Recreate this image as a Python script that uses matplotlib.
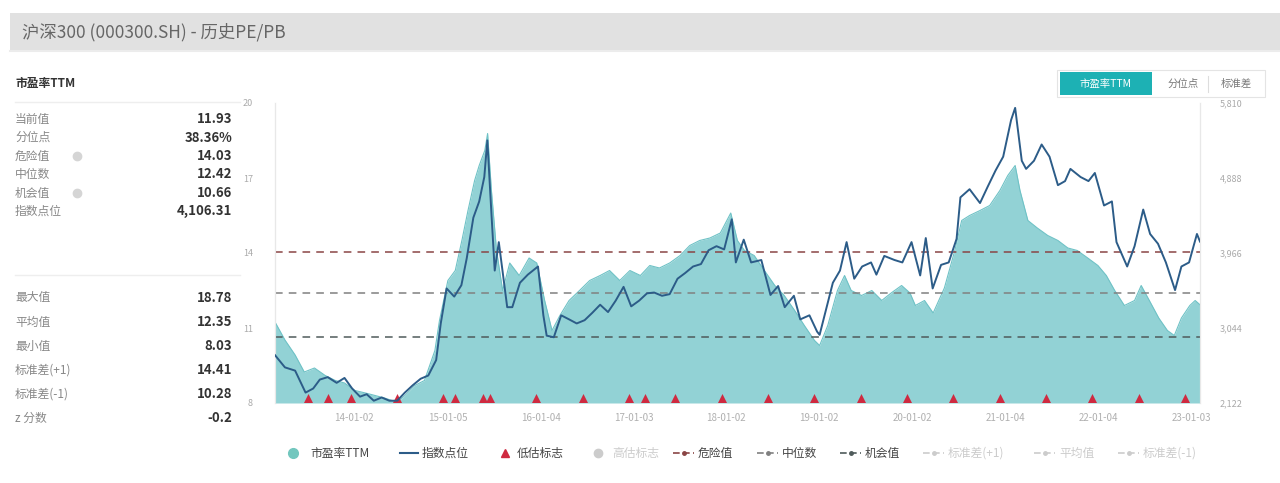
import numpy as np
import matplotlib.pyplot as plt
import matplotlib.dates as mdates
import pandas as pd
from matplotlib.patches import Rectangle

plt.rcParams['font.family'] = ['Noto Sans CJK SC', 'DejaVu Sans']

# PE TTM of CSI 300
pe_dates = ['2013-02-25', '2013-04-05', '2013-05-15', '2013-06-20', '2013-07-30', '2013-09-10',
            '2013-10-20', '2013-11-25', '2014-01-05', '2014-02-15', '2014-03-25', '2014-05-01',
            '2014-06-20', '2014-07-20', '2014-08-28', '2014-10-05', '2014-11-15', '2014-12-03',
            '2015-01-05', '2015-02-03', '2015-03-01', '2015-03-25', '2015-04-20', '2015-05-08',
            '2015-05-30', '2015-06-10', '2015-06-25', '2015-07-15', '2015-08-08', '2015-09-05',
            '2015-10-12', '2015-11-20', '2015-12-20', '2016-01-20', '2016-02-18', '2016-03-20',
            '2016-04-25', '2016-06-05', '2016-07-15', '2016-08-25', '2016-10-01', '2016-11-10',
            '2016-12-20', '2017-01-30', '2017-03-08', '2017-04-15', '2017-05-25', '2017-07-05',
            '2017-08-12', '2017-09-20', '2017-10-30', '2017-12-10', '2018-01-20', '2018-02-15',
            '2018-03-15', '2018-04-22', '2018-06-01', '2018-07-12', '2018-08-18', '2018-09-28',
            '2018-11-05', '2018-12-15', '2019-01-04', '2019-02-05', '2019-03-15', '2019-04-12',
            '2019-05-08', '2019-06-18', '2019-07-28', '2019-09-05', '2019-10-12', '2019-11-22',
            '2019-12-25', '2020-01-15', '2020-02-20', '2020-03-25', '2020-05-08', '2020-06-18',
            '2020-07-15', '2020-08-15', '2020-09-25', '2020-11-02', '2020-12-12', '2021-01-12',
            '2021-02-10', '2021-03-01', '2021-04-01', '2021-05-08', '2021-06-18', '2021-07-28',
            '2021-09-05', '2021-10-12', '2021-11-22', '2022-01-01', '2022-02-03', '2022-03-08',
            '2022-04-15', '2022-05-25', '2022-06-20', '2022-07-22', '2022-08-28', '2022-10-01',
            '2022-10-28', '2022-11-25', '2022-12-28', '2023-01-18', '2023-02-06']
pe_values = [11.24, 10.52, 9.92, 9.24, 9.40, 9.10,
             8.90, 8.80, 8.50, 8.40, 8.30, 8.20,
             8.03, 8.30, 8.70, 8.90, 10.10, 11.30,
             12.90, 13.30, 14.50, 15.70, 16.90, 17.50,
             18.10, 18.78, 16.50, 14.10, 12.50, 13.60,
             13.10, 13.80, 13.60, 12.10, 10.90, 11.50,
             12.10, 12.50, 12.90, 13.10, 13.30, 12.90,
             13.30, 13.10, 13.50, 13.40, 13.60, 13.90,
             14.30, 14.50, 14.60, 14.80, 15.60, 14.50,
             14.10, 13.90, 13.30, 12.70, 12.30, 11.70,
             11.10, 10.50, 10.30, 11.10, 12.50, 13.10,
             12.50, 12.30, 12.50, 12.10, 12.40, 12.70,
             12.40, 11.90, 12.10, 11.60, 12.60, 14.10,
             15.30, 15.50, 15.70, 15.90, 16.50, 17.10,
             17.50, 16.50, 15.30, 15.00, 14.70, 14.50,
             14.20, 14.10, 13.80, 13.50, 13.10, 12.50,
             11.90, 12.10, 12.70, 12.10, 11.40, 10.90,
             10.70, 11.40, 11.90, 12.10, 11.93]

# index level
index_dates = ['2013-02-25', '2013-04-05', '2013-05-15', '2013-06-25', '2013-07-25', '2013-08-20',
               '2013-09-20', '2013-10-25', '2013-11-25', '2013-12-25', '2014-01-25', '2014-02-20',
               '2014-03-20', '2014-04-20', '2014-05-20', '2014-06-20', '2014-07-20', '2014-08-20',
               '2014-09-20', '2014-10-20', '2014-11-20', '2014-12-08', '2014-12-31', '2015-01-30',
               '2015-02-27', '2015-03-20', '2015-04-15', '2015-05-08', '2015-05-28', '2015-06-09',
               '2015-06-26', '2015-07-08', '2015-07-24', '2015-08-26', '2015-09-15', '2015-10-15',
               '2015-11-15', '2015-12-25', '2016-01-15', '2016-01-28', '2016-02-25', '2016-03-25',
               '2016-04-25', '2016-05-25', '2016-06-25', '2016-07-25', '2016-08-25', '2016-09-25',
               '2016-10-25', '2016-11-25', '2016-12-25', '2017-01-25', '2017-02-25', '2017-03-25',
               '2017-04-25', '2017-05-25', '2017-06-25', '2017-07-25', '2017-08-25', '2017-09-25',
               '2017-10-25', '2017-11-25', '2017-12-25', '2018-01-24', '2018-02-09', '2018-03-12',
               '2018-04-10', '2018-05-20', '2018-06-25', '2018-07-25', '2018-08-20', '2018-09-25',
               '2018-10-20', '2018-11-25', '2018-12-25', '2019-01-04', '2019-02-25', '2019-03-25',
               '2019-04-20', '2019-05-20', '2019-06-20', '2019-07-25', '2019-08-15', '2019-09-15',
               '2019-10-25', '2019-11-25', '2019-12-31', '2020-02-03', '2020-02-25', '2020-03-23',
               '2020-04-25', '2020-05-25', '2020-06-25', '2020-07-10', '2020-08-15', '2020-09-25',
               '2020-10-25', '2020-11-25', '2020-12-25', '2021-01-25', '2021-02-10', '2021-03-08',
               '2021-03-25', '2021-04-25', '2021-05-25', '2021-06-25', '2021-07-28', '2021-08-25',
               '2021-09-15', '2021-10-25', '2021-11-25', '2021-12-20', '2022-01-25', '2022-02-25',
               '2022-03-15', '2022-04-26', '2022-05-25', '2022-06-28', '2022-07-25', '2022-08-25',
               '2022-09-25', '2022-10-31', '2022-11-25', '2022-12-25', '2023-01-25', '2023-02-06']
index_values = [2710, 2560, 2520, 2250, 2300, 2410,
                2440, 2370, 2430, 2300, 2200, 2230,
                2150, 2190, 2150, 2150, 2250, 2340,
                2420, 2460, 2650, 3100, 3530, 3430,
                3570, 3900, 4400, 4600, 4900, 5350,
                4400, 3750, 4100, 3300, 3300, 3600,
                3700, 3800, 3200, 2950, 2930, 3200,
                3150, 3100, 3140, 3230, 3330, 3240,
                3380, 3550, 3310, 3380, 3470, 3480,
                3440, 3460, 3650, 3720, 3800, 3830,
                4000, 4050, 4010, 4380, 3850, 4130,
                3850, 3880, 3450, 3560, 3300, 3440,
                3150, 3200, 3000, 2960, 3600, 3750,
                4100, 3650, 3800, 3850, 3700, 3930,
                3880, 3850, 4100, 3690, 4150, 3530,
                3820, 3850, 4140, 4650, 4750, 4580,
                4780, 4980, 5150, 5600, 5750, 5100,
                5000, 5100, 5300, 5150, 4800, 4850,
                5000, 4900, 4850, 4950, 4550, 4600,
                4100, 3800, 4050, 4500, 4200, 4080,
                3850, 3510, 3800, 3850, 4200, 4106.31]

signal_dates = ['2013-07-03', '2013-09-20', '2013-12-20', '2014-06-20', '2014-12-15', '2015-02-03',
                '2015-05-22', '2015-06-20', '2015-12-18', '2016-06-17', '2016-12-16', '2017-02-17',
                '2017-06-16', '2017-12-15', '2018-06-15', '2018-12-14', '2019-06-14', '2019-12-13',
                '2020-06-12', '2020-12-11', '2021-06-11', '2021-12-10', '2022-06-10', '2022-12-09']

danger_value = 14.03
median_value = 12.42
chance_value = 10.66

pe_ticks = [8, 11, 14, 17, 20]
index_ticks = [2122, 3044, 3966, 4888, 5810]
date_ticks = ['2014-01-02', '2015-01-05', '2016-01-04', '2017-01-03', '2018-01-02',
              '2019-01-02', '2020-01-02', '2021-01-04', '2022-01-04', '2023-01-03']

stats_top = [('当前值', '11.93'), ('分位点', '38.36%'), ('危险值', '14.03'),
             ('中位数', '12.42'), ('机会值', '10.66'), ('指数点位', '4,106.31')]
stats_bottom = [('最大值', '18.78'), ('平均值', '12.35'), ('最小值', '8.03'),
                ('标准差(+1)', '14.41'), ('标准差(-1)', '10.28'), ('z 分数', '-0.2')]

pe_x = pd.to_datetime(pe_dates)
idx_x = pd.to_datetime(index_dates)
sig_x = mdates.date2num(pd.to_datetime(signal_dates))

fill_color = '#92d2d5'
line_color = '#2c5c88'
danger_color = '#8a4545'
median_color = '#808080'
chance_color = '#4f5b5b'
tri_color = '#cf2a40'

fig = plt.figure(figsize=(12.8, 4.83), dpi=100)

# page layer in pixel units
bg = fig.add_axes([0, 0, 1, 1])
bg.set_xlim(0, 1280)
bg.set_ylim(483, 0)
bg.axis('off')

bg.add_patch(Rectangle((10, 13), 1270, 37, color='#e1e1e1', lw=0))
bg.plot([10, 1280], [51, 51], color='#ececec', lw=1.5)
bg.text(22, 32, '沪深300 (000300.SH) - 历史PE/PB', fontsize=12.5, color='#666666', va='center')

bg.text(15, 84, '市盈率TTM', fontsize=8.5, color='#333333', fontweight='bold', va='center')
bg.plot([15, 240], [102, 102], color='#eeeeee', lw=1)
for i, (name, val) in enumerate(stats_top):
    y = 119 + i * 18.5
    bg.text(15, y, name, fontsize=8.5, color='#888888', va='center')
    bg.text(232, y, val, fontsize=9.5, color='#333333', fontweight='bold', va='center', ha='right')
    if name in ('危险值', '机会值'):
        bg.plot(77, y, 'o', ms=6, color='#d5d5d5')
bg.plot([15, 240], [275, 275], color='#eeeeee', lw=1)
for i, (name, val) in enumerate(stats_bottom):
    y = 298 + i * 24
    bg.text(15, y, name, fontsize=8.5, color='#888888', va='center')
    bg.text(232, y, val, fontsize=9.5, color='#333333', fontweight='bold', va='center', ha='right')

# switch buttons
bg.add_patch(Rectangle((1057, 70), 208, 27, fill=False, ec='#e4e4e4', lw=0.8))
bg.add_patch(Rectangle((1060, 72), 92, 23, color='#1db1b4', lw=0))
bg.text(1106, 84, '市盈率TTM', fontsize=7.5, color='white', ha='center', va='center')
bg.text(1183, 84, '分位点', fontsize=7.5, color='#777777', ha='center', va='center')
bg.plot([1208, 1208], [76, 92], color='#dddddd', lw=0.8)
bg.text(1236, 84, '标准差', fontsize=7.5, color='#777777', ha='center', va='center')

# main chart
ax = fig.add_axes([275 / 1280, 80 / 483, 925 / 1280, 300 / 483])
ax.fill_between(pe_x, pe_values, 8, color=fill_color, lw=0, zorder=1)
ax.plot(pe_x, pe_values, color='#6fc2c6', lw=0.8, zorder=2)
ax.axhline(danger_value, color=danger_color, lw=1.1, ls=(0, (5, 4)), zorder=3)
ax.axhline(median_value, color=median_color, lw=1.1, ls=(0, (5, 4)), zorder=3)
ax.axhline(chance_value, color=chance_color, lw=1.1, ls=(0, (5, 4)), zorder=3)
ax.scatter(sig_x, np.full(len(sig_x), 0.016), transform=ax.get_xaxis_transform(),
           marker='^', s=42, color=tri_color, zorder=6, clip_on=False, lw=0)
ax.set_ylim(8, 20)
ax.set_xlim(pe_x[0], pe_x[-1])
ax.set_yticks(pe_ticks)
ax.set_yticklabels([str(t) for t in pe_ticks])
tick_x = pd.to_datetime(date_ticks)
ax.set_xticks(tick_x)
ax.set_xticklabels([d.strftime('%y-%m-%d') for d in tick_x])
ax.tick_params(axis='y', length=0, labelsize=6.5, labelcolor='#aaaaaa', pad=16)
ax.tick_params(axis='x', length=0, labelsize=7, labelcolor='#b0b0b0', pad=7)

ax2 = ax.twinx()
ax2.plot(idx_x, index_values, color=line_color, lw=1.4, zorder=4)
ax2.set_ylim(index_ticks[0], index_ticks[-1])
ax2.set_yticks(index_ticks)
ax2.set_yticklabels([f'{t:,}' for t in index_ticks])
ax2.tick_params(axis='y', length=0, labelsize=6.5, labelcolor='#aaaaaa', pad=14)

for a in (ax, ax2):
    a.spines['top'].set_visible(False)
    a.spines['bottom'].set_visible(False)
    a.spines['left'].set_color('#e8e8e8')
    a.spines['right'].set_color('#e8e8e8')
    a.patch.set_visible(False)

# legend row
ly = 453
lfs = 8.5
tc = '#444444'
fc = '#cccccc'
bg.plot(293, ly, 'o', ms=7, color='#72c7be')
bg.text(310, ly, '市盈率TTM', fontsize=lfs, color=tc, va='center')
bg.plot([400, 418], [ly, ly], color=line_color, lw=1.5)
bg.text(422, ly, '指数点位', fontsize=lfs, color=tc, va='center')
bg.plot(505, ly, '^', ms=6, color=tri_color)
bg.text(517, ly, '低估标志', fontsize=lfs, color=tc, va='center')
bg.plot(598, ly, 'o', ms=6, color=fc)
bg.text(612, ly, '高估标志', fontsize=lfs, color=fc, va='center')

for x0, label, col, tcol in [(673, '危险值', danger_color, tc), (757, '中位数', median_color, tc),
                             (840, '机会值', chance_color, tc), (923, '标准差(+1)', fc, fc),
                             (1034, '平均值', fc, fc), (1118, '标准差(-1)', fc, fc)]:
    bg.plot([x0, x0 + 21], [ly, ly], color=col, lw=1.2, ls=(0, (4, 2)))
    bg.plot(x0 + 10.5, ly, 'o', ms=2.5, color=col)
    bg.text(x0 + 25, ly, label, fontsize=lfs, color=tcol, va='center')

fig.savefig('out.png', dpi=100)
